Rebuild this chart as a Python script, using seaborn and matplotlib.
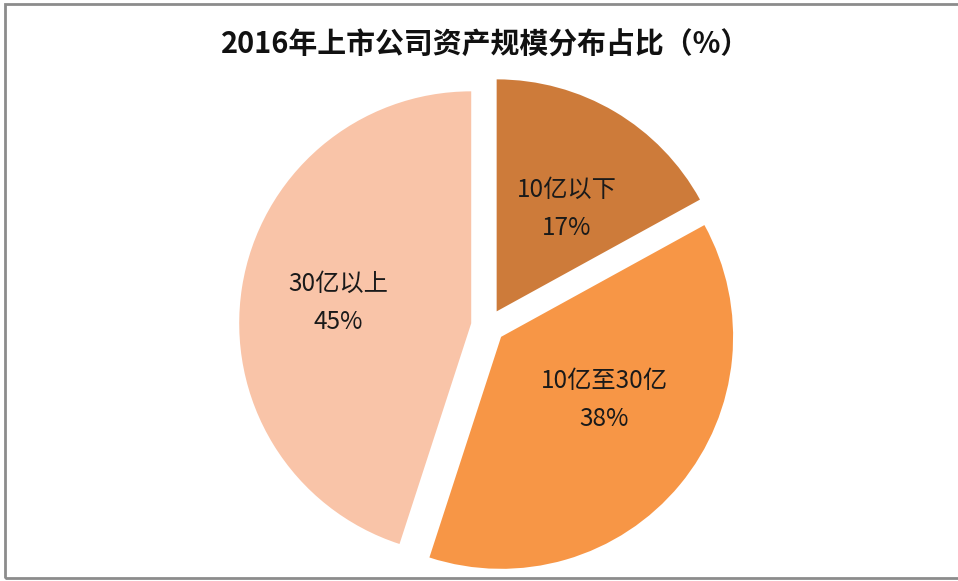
import matplotlib
matplotlib.use("Agg")
import matplotlib.pyplot as plt
import seaborn as sns
from matplotlib.patches import Rectangle

# data
categories = ['10亿以下', '10亿至30亿', '30亿以上']
shares = [17, 38, 45]
colors = ['#CD7B3A', '#F79646', '#F9C4A8']
title = '2016年上市公司资产规模分布占比（%）'

sns.set_style("white")
plt.rcParams['font.family'] = ['Noto Sans CJK SC', 'DejaVu Sans']

W, H = 958, 581
fig = plt.figure(figsize=(W / 100, H / 100), dpi=100)
fig.patch.set_facecolor('white')

# axes in pixel units so the pie can be placed like the reference
ax = fig.add_axes([0, 0, 1, 1])

R = 232
labels_iter = iter(categories)
wedges, texts, autotexts = ax.pie(
    shares,
    colors=colors,
    startangle=90,
    counterclock=False,
    explode=[17] * len(shares),   # pie offsets are in data units here
    center=(488, H - 326),
    radius=R,
    autopct=lambda p: f'{next(labels_iter)}\n{p:.0f}%',
    pctdistance=0.57,
    wedgeprops=dict(linewidth=0),
    textprops=dict(fontsize=17.5, color='#1a1a1a', linespacing=1.6),
)

# nudge labels a little, Excel-style placement
nudges = [(3, -11), (1, 21), (-2, 0)]
for t, (dx, dy) in zip(autotexts, nudges):
    x, y = t.get_position()
    t.set_position((x + dx, y + dy))

ax.set_xlim(0, W)
ax.set_ylim(0, H)
ax.set_aspect('equal')
ax.axis('off')

# chart title
fig.text(486 / W, 1 - 45 / H, title, ha='center', va='center',
         fontsize=20.8, fontweight='bold', color='#111111')

# gray chart frame (right edge runs off the picture)
fig.patches.append(Rectangle((5 / W, 3 / H), 1.1, 1 - 7 / H,
                             transform=fig.transFigure, fill=False,
                             edgecolor='#8c8c8c', linewidth=2))

fig.savefig('out.png', dpi=100)
